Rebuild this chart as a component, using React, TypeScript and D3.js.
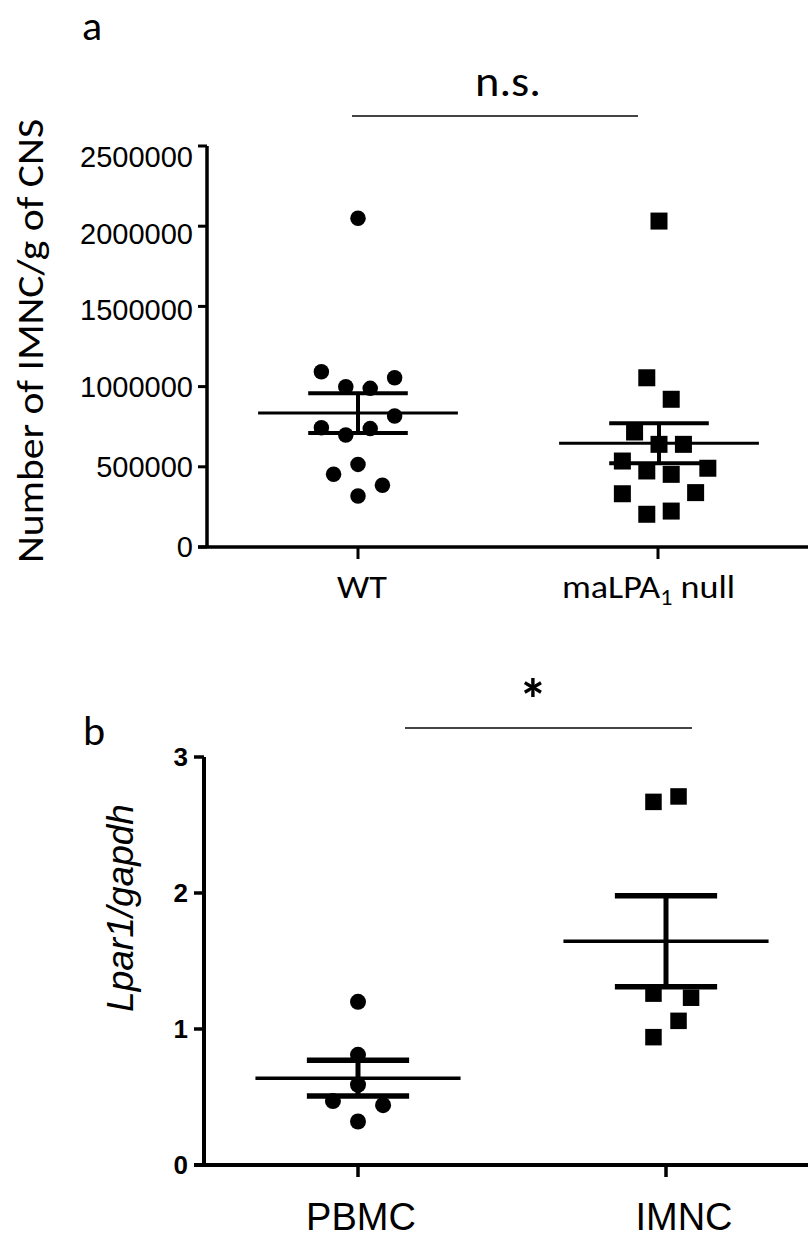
import React from 'react';
import * as d3 from 'd3';

// ---------- Panel a data ----------
const aCategories = ['WT', 'maLPA1 null'];
const wtValues = [2050000, 1093000, 1055000, 999000, 989000, 817000, 744000, 738000, 698000, 515000, 453000, 385000, 318000];
const wtJitter = [0, -3, 3, -1, 1, 3, -3, 1, -1, 0, -2, 2, 0];
const nullValues = [2032000, 1055000, 921000, 717000, 640000, 640000, 536000, 491000, 474000, 453000, 339000, 332000, 224000, 204000];
const nullJitter = [0, -1, 1, -2, 0, 2, -3, 4, -1, 1, 3, -3, 1, -1];
const aTicks = [0, 500000, 1000000, 1500000, 2000000, 2500000];

// ---------- Panel b data ----------
const bCategories = ['PBMC', 'IMNC'];
const pbmcValues = [1.2, 0.81, 0.59, 0.47, 0.44, 0.32];
const pbmcJitter = [0, 0, 0, -2, 2, 0];
const imncValues = [2.67, 2.71, 1.26, 1.23, 1.06, 0.94];
const imncJitter = [-1, 1, -1, 2, 1, -1];
const bTicks = [0, 1, 2, 3];

const calib = "Carlito, Calibri, Lato, sans-serif";
const arial = "Arial, 'Liberation Sans', sans-serif";

function stats(v: number[]) {
  const m = d3.mean(v) as number;
  const se = (d3.deviation(v) as number) / Math.sqrt(v.length);
  return { m, lo: m - se, hi: m + se };
}

type GroupProps = {
  values: number[];
  jitter: number[];
  cx: number;
  step: number;
  y: d3.ScaleLinear<number, number>;
  shape: 'circle' | 'square';
  size: number;
  meanW: number;
  capW: number;
  vertW: number;
};

function Group({ values, jitter, cx, step, y, shape, size, meanW, capW, vertW }: GroupProps) {
  const s = stats(values);
  const ju = step * 0.0407;
  const meanHalf = step * 0.333;
  const capHalf = step * 0.166;
  return (
    <g>
      <line x1={cx - meanHalf} x2={cx + meanHalf} y1={y(s.m)} y2={y(s.m)} stroke="#000" strokeWidth={meanW} />
      <line x1={cx} x2={cx} y1={y(s.hi)} y2={y(s.lo)} stroke="#000" strokeWidth={vertW} />
      <line x1={cx - capHalf} x2={cx + capHalf} y1={y(s.hi)} y2={y(s.hi)} stroke="#000" strokeWidth={capW} />
      <line x1={cx - capHalf} x2={cx + capHalf} y1={y(s.lo)} y2={y(s.lo)} stroke="#000" strokeWidth={capW} />
      {values.map((v, i) => {
        const px = cx + jitter[i] * ju;
        const py = y(v);
        return shape === 'circle' ? (
          <circle key={i} cx={px} cy={py} r={size / 2} fill="#000" />
        ) : (
          <rect key={i} x={px - size / 2} y={py - size / 2} width={size} height={size} fill="#000" />
        );
      })}
    </g>
  );
}

export default function App() {
  // Panel a scales
  const ax = d3.scalePoint<string>().domain(aCategories).range([208, 808]).padding(0.5);
  const ay = d3.scaleLinear().domain([0, 2500000]).range([547, 146]);
  const axisAx = 207;
  const axisAy = ay(0);

  // Panel b scales
  const bx = d3.scalePoint<string>().domain(bCategories).range([204, 820]).padding(0.5);
  const by = d3.scaleLinear().domain([0, 3]).range([1165, 757]);
  const axisBx = 204;
  const axisBy = by(0);

  return (
    <svg width={808} height={1241} style={{ position: 'absolute', left: 0, top: 0, background: '#fff' }}>
      <rect x={0} y={0} width={808} height={1241} fill="#fff" />
      {/* ================= Panel a ================= */}
      <text x={82} y={40} fontFamily={calib} fontSize={42}>a</text>
      <text x={508} y={96} fontFamily={calib} fontSize={44} textAnchor="middle" textLength={66} lengthAdjust="spacingAndGlyphs">n.s.</text>
      <line x1={352} x2={638} y1={116} y2={116} stroke="#444" strokeWidth={2} />

      <text transform={`translate(43, ${341}) rotate(-90)`} fontFamily={calib} fontSize={37} textAnchor="middle" textLength={444} lengthAdjust="spacingAndGlyphs">
        Number of IMNC/g of CNS
      </text>

      {/* y axis */}
      <line x1={axisAx} x2={axisAx} y1={ay(2500000)} y2={axisAy} stroke="#000" strokeWidth={3.5} />
      {aTicks.map((t) => (
        <g key={t}>
          <line x1={axisAx - 9} x2={axisAx} y1={ay(t)} y2={ay(t)} stroke="#000" strokeWidth={3} />
          <text
            x={193}
            y={ay(t) + Math.max(0, ((t - 1000000) / 1500000) * 11)}
            dy="0.35em"
            textAnchor="end"
            fontFamily={arial}
            fontSize={29}
          >
            {d3.format('d')(t)}
          </text>
        </g>
      ))}
      {/* x axis */}
      <line x1={axisAx - 9} x2={808} y1={axisAy} y2={axisAy} stroke="#000" strokeWidth={3.5} />
      {aCategories.map((c) => (
        <line key={c} x1={ax(c)} x2={ax(c)} y1={axisAy} y2={axisAy + 12} stroke="#000" strokeWidth={3} />
      ))}
      <text x={(ax('WT') as number) + 4} y={598} textAnchor="middle" fontFamily={calib} fontSize={33} textLength={50} lengthAdjust="spacingAndGlyphs">WT</text>
      <text x={562} y={598} fontFamily={calib} fontSize={33} textLength={173} lengthAdjust="spacingAndGlyphs">
        maLPA<tspan fontSize={22} dy={7}>1</tspan><tspan dy={-7}> null</tspan>
      </text>

      <Group values={wtValues} jitter={wtJitter} cx={ax('WT') as number} step={ax.step()} y={ay} shape="circle" size={15.5} meanW={3} capW={4} vertW={4} />
      <Group values={nullValues} jitter={nullJitter} cx={(ax('maLPA1 null') as number) + 1} step={ax.step()} y={ay} shape="square" size={17} meanW={3} capW={4} vertW={4} />

      {/* ================= Panel b ================= */}
      <text x={83} y={745} fontFamily={calib} fontSize={42}>b</text>
      <text x={533} y={720} fontFamily={calib} fontSize={58} fontWeight="bold" textAnchor="middle">*</text>
      <line x1={405} x2={692} y1={728} y2={728} stroke="#444" strokeWidth={2} />

      <text transform={`translate(133, ${908}) rotate(-90)`} fontFamily={arial} fontStyle="italic" fontSize={37} textAnchor="middle">
        Lpar1/gapdh
      </text>

      <line x1={axisBx} x2={axisBx} y1={by(3)} y2={axisBy} stroke="#000" strokeWidth={4} />
      {bTicks.map((t) => (
        <g key={t}>
          <line x1={axisBx - 10} x2={axisBx} y1={by(t)} y2={by(t)} stroke="#000" strokeWidth={3.5} />
          <text x={188} y={by(t)} dy="0.35em" textAnchor="end" fontFamily={arial} fontWeight="bold" fontSize={26}>
            {t}
          </text>
        </g>
      ))}
      <line x1={axisBx - 10} x2={808} y1={axisBy} y2={axisBy} stroke="#000" strokeWidth={4} />
      {bCategories.map((c) => (
        <line key={c} x1={bx(c)} x2={bx(c)} y1={axisBy} y2={axisBy + 12} stroke="#000" strokeWidth={3.5} />
      ))}
      <text x={(bx('PBMC') as number) + 3} y={1230} textAnchor="middle" fontFamily={arial} fontSize={38}>PBMC</text>
      <text x={(bx('IMNC') as number) + 18} y={1230} textAnchor="middle" fontFamily={arial} fontSize={38}>IMNC</text>

      <Group values={pbmcValues} jitter={pbmcJitter} cx={bx('PBMC') as number} step={bx.step()} y={by} shape="circle" size={16} meanW={3.5} capW={5.5} vertW={5} />
      <Group values={imncValues} jitter={imncJitter} cx={bx('IMNC') as number} step={bx.step()} y={by} shape="square" size={16.5} meanW={3.5} capW={5.5} vertW={5} />
    </svg>
  );
}
